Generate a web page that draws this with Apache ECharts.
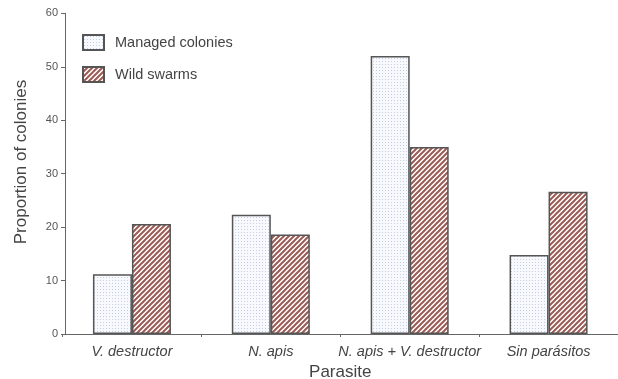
<!DOCTYPE html>
<html><head><meta charset="utf-8">
<script src="https://cdn.jsdelivr.net/npm/echarts@6/dist/echarts.min.js"></script>
<style>html,body{margin:0;padding:0;background:#fff}#c{width:618px;height:379px}</style>
</head><body><div id="c"></div>
<script>
var categories = ['V. destructor', 'N. apis', 'N. apis + V. destructor', 'Sin parásitos'];
var managedColonies = [11.2, 22.3, 52.0, 14.8];
var wildSwarms = [20.6, 18.6, 35.0, 26.6];
var yTicks = [0, 10, 20, 30, 40, 50, 60];

function dotPattern() {
  var c = document.createElement('canvas'); c.width = 3; c.height = 3;
  var g = c.getContext('2d');
  g.fillStyle = '#f7f9fc'; g.fillRect(0, 0, 3, 3);
  g.fillStyle = '#c3cfe6'; g.fillRect(1, 1, 1, 1);
  return { image: c, repeat: 'repeat' };
}
function stripePattern() {
  var s = 5;
  var c = document.createElement('canvas'); c.width = s; c.height = s;
  var g = c.getContext('2d');
  g.fillStyle = '#ffffff'; g.fillRect(0, 0, s, s);
  g.strokeStyle = '#9b5b55'; g.lineWidth = 2;
  g.beginPath();
  g.moveTo(-1, s + 1); g.lineTo(s + 1, -1);
  g.moveTo(-1, 1); g.lineTo(1, -1);
  g.moveTo(s - 1, s + 1); g.lineTo(s + 1, s - 1);
  g.stroke();
  return { image: c, repeat: 'repeat' };
}

var chart = echarts.init(document.getElementById('c'));
var font = 'Liberation Sans, Arial, sans-serif';
chart.setOption({
  animation: false,
  textStyle: { fontFamily: font },
  grid: { left: 62.5, right: 0, top: 13.3, bottom: 45, containLabel: false, outerBoundsMode: 'none' },
  legend: {
    orient: 'vertical', left: 77, top: 29, itemWidth: 21, itemHeight: 15, itemGap: 15,
    icon: 'rect',
    textStyle: { fontSize: 14.5, color: '#444', fontFamily: font, padding: [0, 0, 0, 6] },
    data: ['Managed colonies', 'Wild swarms']
  },
  xAxis: {
    type: 'category', data: categories,
    name: 'Parasite', nameLocation: 'middle', nameGap: 28,
    nameTextStyle: { fontSize: 17, color: '#444', fontFamily: font },
    axisLine: { lineStyle: { color: '#666', width: 1 } },
    axisTick: { show: true, length: 3, lineStyle: { color: '#666' } },
    axisLabel: { interval: 0, fontStyle: 'italic', fontSize: 14.5, color: '#444', margin: 10, fontFamily: font }
  },
  yAxis: {
    type: 'value', min: 0, max: 60, interval: 10, offset: -2.5,
    axisLine: { show: true, lineStyle: { color: '#666', width: 1 } },
    axisTick: { show: true, length: 4, lineStyle: { color: '#666' } },
    axisLabel: { fontSize: 11, color: '#555', margin: 7, fontFamily: font,
      formatter: function (v) { return yTicks.indexOf(v) >= 0 ? String(v) : ''; } },
    splitLine: { show: false }
  },
  graphic: [{
    type: 'text', rotation: Math.PI / 2, x: 21, y: 162,
    style: { text: 'Proportion of colonies', font: '17px ' + font, fill: '#444',
      textAlign: 'center', textVerticalAlign: 'middle' }
  }],
  series: [{
    name: 'Managed colonies', type: 'bar', data: managedColonies, barWidth: 39, barGap: '0%',
    itemStyle: { color: dotPattern(), borderColor: '#555', borderWidth: 1.5 }
  }, {
    name: 'Wild swarms', type: 'bar', data: wildSwarms, barWidth: 39, barGap: '0%',
    itemStyle: { color: stripePattern(), borderColor: '#555', borderWidth: 1.5 }
  }]
});
</script></body></html>
